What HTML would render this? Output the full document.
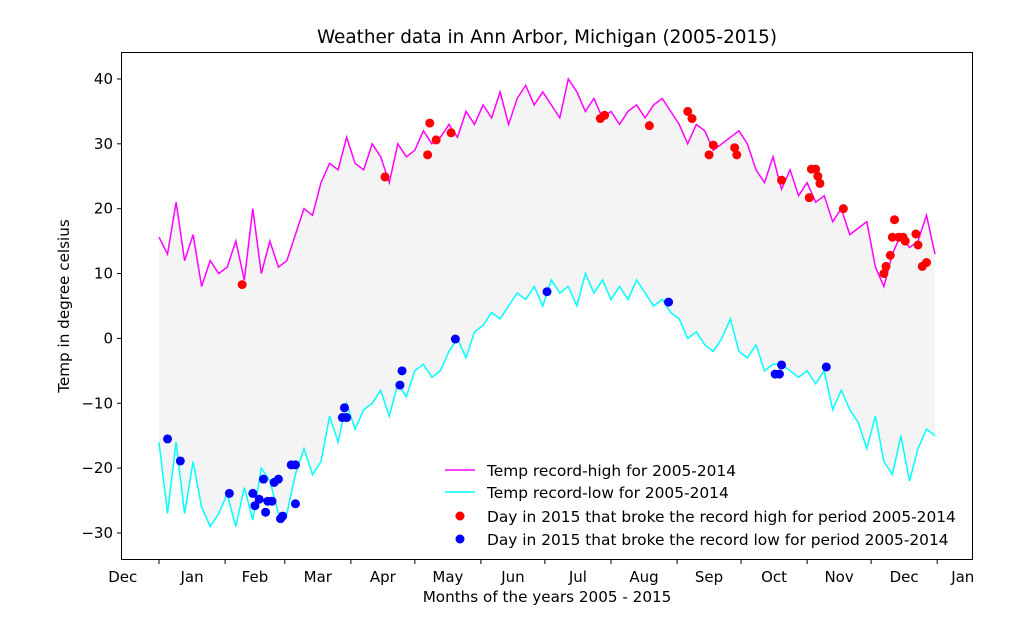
<!DOCTYPE html>
<html><head><meta charset="utf-8"><style>
body{margin:0;background:#fff;}
svg{display:block;font-family:"DejaVu Sans","Liberation Sans",sans-serif;}
</style></head><body>
<svg id="chart" width="1016" height="629" viewBox="0 0 1016 629" xmlns="http://www.w3.org/2000/svg">
<rect width="1016" height="629" fill="#fff"/>
<text x="547" y="43" text-anchor="middle" font-size="18.4">Weather data in Ann Arbor, Michigan (2005-2015)</text>
<g id="plot"></g>
<rect x="121.5" y="52.5" width="851" height="507" fill="none" stroke="#000" stroke-width="1"/>
<g id="axes"></g>
<text x="547" y="602" text-anchor="middle" font-size="15.2">Months of the years 2005 - 2015</text>
<text transform="translate(69,306) rotate(-90)" text-anchor="middle" font-size="15.2">Temp in degree celsius</text>
<g font-size="15.4">
<line x1="445" y1="470" x2="475" y2="470" stroke="#ff00ff" stroke-width="1.5"/>
<text x="487" y="476">Temp record-high for 2005-2014</text>
<line x1="445" y1="492" x2="475" y2="492" stroke="#00ffff" stroke-width="1.5"/>
<text x="487" y="498">Temp record-low for 2005-2014</text>
<circle cx="460" cy="516" r="4.5" fill="#ff0000"/>
<text x="487" y="522">Day in 2015 that broke the record high for  period 2005-2014</text>
<circle cx="460" cy="539" r="4.5" fill="#0000ff"/>
<text x="487" y="545">Day in 2015 that broke the record low for period 2005-2014</text>
</g>
</svg>
<script>
const highVals=[15.6,13,21,12,16,8,12,10, 11,15,9,20,10,15,11, 12,16,20,19,24,27,26,31, 27,26,30,28,24,30,28,29, 32,30,31,33,31,35,33, 36,34,38,33,37,39,36,38, 36,34,40,38,35,37,34,35, 33,35,36,34,36,37,35, 33,30,33,32,29,30,31,32, 30,26,24,28,23,26,22,24, 21,22,18,20,16,17,18,11, 8,13,16,14,15,19,13];
const lowVals=[-16,-27,-16,-27,-19,-26,-29,-27, -24,-29,-23,-28,-20,-22,-27, -27,-21,-17,-21,-19,-12,-16,-10, -14,-11,-10,-8,-12,-7,-9,-5, -4,-6,-5,-2,0,-3,1, 2,4,3,5,7,6,8,5, 9,7,8,5,10,7,9,6, 8,6,9,7,5,6,4, 3,0,1,-1,-2,0,3,-2, -3,-1,-5,-4,-4,-5,-6,-5, -7,-5,-11,-8,-11,-13,-17,-12, -19,-21,-15,-22,-17,-14,-15];
const sampleStep=4;
const breakHighDays=[39,106,126,127,130,137,207,209,230,248,250,258,260,270,271,292,305,306,308,309,310,321,340,341,343,344,345,347,349,350,355,356,358,360];
const breakHighVals=[8.3,24.9,28.3,33.2,30.6,31.7,33.9,34.4,32.8,35,33.9,28.3,29.8,29.4,28.3,24.4,21.7,26.1,26.1,25,23.9,20,10,11.1,12.8,15.6,18.3,15.6,15.6,15,16.1,14.4,11.1,11.7];
const breakLowDays=[4,10,33,44,45,47,49,50,51,53,54,56,57,58,62,64,64,86,87,88,113,114,139,182,239,289,291,292,313];
const breakLowVals=[-15.5,-18.9,-23.9,-23.9,-25.8,-24.8,-21.7,-26.8,-25.1,-25.1,-22.2,-21.7,-27.8,-27.4,-19.5,-19.5,-25.5,-12.2,-10.7,-12.2,-7.2,-5,-0.1,7.2,5.6,-5.5,-5.5,-4.1,-4.4];
const monthStarts=[0,31,59,90,120,151,181,212,243,273,304,334,365];
const monthLabels=["Dec","Jan","Feb","Mar","Apr","May","Jun","Jul","Aug","Sep","Oct","Nov","Dec","Jan"];
const yTicks=[-30,-20,-10,0,10,20,30,40];

const NS="http://www.w3.org/2000/svg";
const xs=d=>159+d*2.132;
const ys=v=>338.4-v*6.486;
function mk(tag,attrs,parent){const e=document.createElementNS(NS,tag);for(const k in attrs)e.setAttribute(k,attrs[k]);parent.appendChild(e);return e;}
const plotG=document.getElementById('plot'), axesG=document.getElementById('axes');

const highPts=highVals.map((v,i)=>xs(i*sampleStep).toFixed(1)+','+ys(v).toFixed(1));
const lowPts=lowVals.map((v,i)=>xs(i*sampleStep).toFixed(1)+','+ys(v).toFixed(1));
const fillPoly=mk('polygon',{points:highPts.concat(lowPts.slice().reverse()).join(' '),fill:'#f4f4f4'},plotG);


const hl=mk('polyline',{points:highPts.join(' '),fill:'none',stroke:'#ff00ff','stroke-width':1.5},plotG);


const ll=mk('polyline',{points:lowPts.join(' '),fill:'none',stroke:'#00ffff','stroke-width':1.5},plotG);


breakHighDays.forEach((d,i)=>{const c=mk('circle',{cx:xs(d),cy:ys(breakHighVals[i]),r:4.5,fill:'#ff0000'},plotG);

});
breakLowDays.forEach((d,i)=>{const c=mk('circle',{cx:xs(d),cy:ys(breakLowVals[i]),r:4.5,fill:'#0000ff'},plotG);

});

monthStarts.forEach(d=>{const t=mk('line',{x1:xs(d),x2:xs(d),y1:560,y2:564,stroke:'#000'},axesG);

});
monthLabels.forEach((m,i)=>{let d=i===0?-17:(i===13?377:(monthStarts[i-1]+monthStarts[i])/2);
const t=mk('text',{x:xs(d),y:582,'text-anchor':'middle','font-size':15},axesG);t.textContent=m;

});
yTicks.forEach(v=>{const t=mk('line',{x1:117,x2:121,y1:ys(v),y2:ys(v),stroke:'#000'},axesG);


const l=mk('text',{x:113,y:ys(v)+5,'text-anchor':'end','font-size':15},axesG);l.textContent=(v<0?'\u2212'+(-v):v);

});
</script>
</body></html>
